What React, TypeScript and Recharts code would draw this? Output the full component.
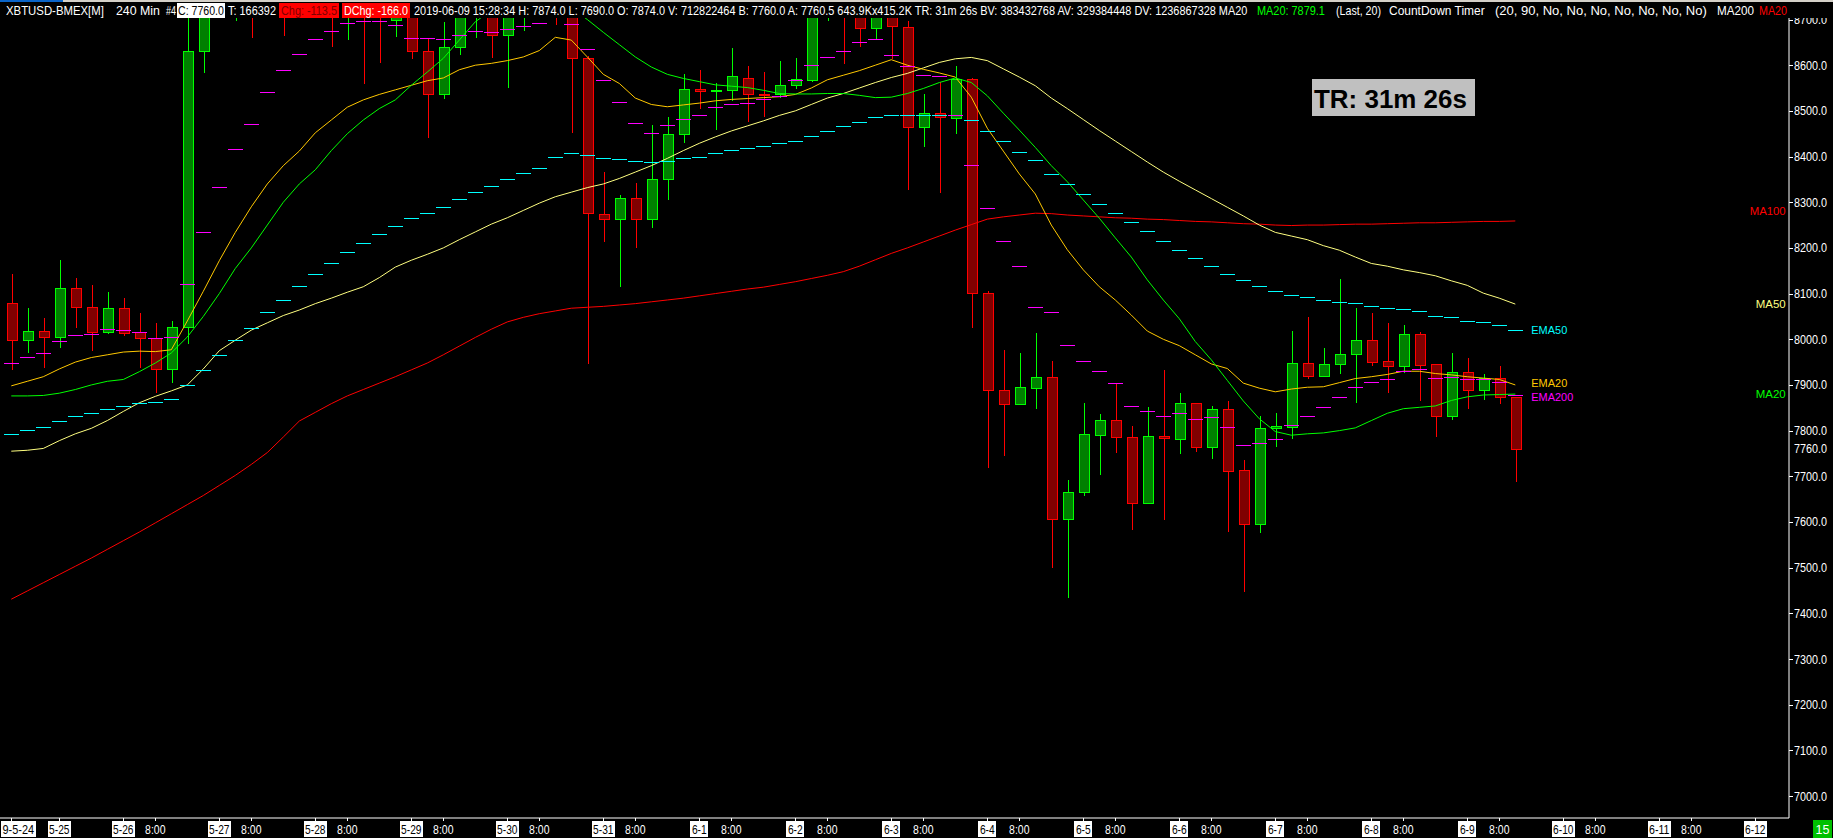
import React from 'react';
import { ComposedChart, Bar, Line, XAxis, YAxis, ReferenceDot } from 'recharts';

const FONT = '"Liberation Sans", Arial, sans-serif';
const PLOT_BOTTOM = 818;
const AXIS_X = 1789;

// ---- candle data (4h bars, first bar 2019-05-24 20:00) ----
const opens = [
  8079, 7998, 8018, 8006, 8112, 8070, 8016, 8068, 8016, 8002,
  7936, 8027, 8632, 8745, 8770, 8820, 8740, 8850, 8790, 8880,
  8920, 8800, 8850, 8760, 8700, 8780, 8632, 8538, 8640, 8720,
  8780, 8665, 8750, 8790, 8760, 8740, 8615, 8274, 8263, 8309,
  8263, 8350, 8449, 8547, 8543, 8545, 8573, 8538, 8536, 8556,
  8568, 8740, 8770, 8720, 8681, 8725, 8683, 8465, 8495, 8485,
  8569, 8101, 7889, 7859, 7894, 7917, 7607, 7665, 7791, 7823,
  7785, 7641, 7788, 7782, 7860, 7765, 7847, 7713, 7595, 7805,
  7809, 7947, 7920, 7945, 7967, 7998, 7952, 7942, 8011, 7945,
  7833, 7928, 7890, 7915, 7874,
];
const highs = [
  8143, 8068, 8046, 8174, 8134, 8119, 8103, 8090, 8057, 8035,
  8040, 8710, 8790, 8810, 8850, 8860, 8880, 8900, 8920, 8950,
  8960, 8880, 8900, 8820, 8830, 8820, 8660, 8695, 8760, 8820,
  8800, 8800, 8830, 8850, 8800, 8780, 8620, 8366, 8315, 8341,
  8469, 8486, 8581, 8589, 8560, 8637, 8598, 8586, 8609, 8615,
  8780, 8800, 8800, 8740, 8760, 8750, 8697, 8536, 8564, 8598,
  8573, 8105, 7977, 7969, 8014, 7952, 7693, 7860, 7836, 7904,
  7810, 7851, 7933, 7882, 7860, 7855, 7864, 7735, 7831, 7838,
  8018, 8048, 7980, 8132, 8068, 8057, 8035, 8031, 8015, 7945,
  7969, 7958, 7925, 7941, 7874,
];
const lows = [
  7936, 7973, 7940, 7984, 8027, 7976, 8013, 8009, 7940, 7885,
  7907, 7991, 8584, 8712, 8698, 8662, 8705, 8667, 8720, 8800,
  8643, 8657, 8562, 8608, 8664, 8615, 8443, 8529, 8624, 8662,
  8617, 8553, 8676, 8720, 8690, 8454, 7947, 8216, 8117, 8203,
  8246, 8307, 8432, 8506, 8460, 8524, 8478, 8489, 8531, 8549,
  8566, 8698, 8604, 8643, 8657, 8615, 8330, 8422, 8323, 8452,
  8027, 7721, 7747, 7859, 7850, 7502, 7436, 7660, 7704, 7754,
  7585, 7641, 7607, 7752, 7756, 7739, 7581, 7450, 7577, 7767,
  7784, 7916, 7920, 7927, 7863, 7944, 7885, 7929, 7866, 7789,
  7826, 7850, 7870, 7861, 7690,
];
const closes = [
  7998, 8018, 8006, 8112, 8070, 8016, 8068, 8014, 8002, 7934,
  8027, 8632, 8745, 8770, 8820, 8740, 8850, 8790, 8880, 8920,
  8800, 8850, 8760, 8720, 8780, 8632, 8538, 8639, 8740, 8780,
  8665, 8760, 8790, 8760, 8740, 8615, 8276, 8263, 8309, 8263,
  8350, 8449, 8547, 8543, 8545, 8576, 8538, 8535, 8556, 8570,
  8740, 8770, 8720, 8681, 8725, 8686, 8465, 8495, 8486, 8570,
  8101, 7889, 7859, 7895, 7917, 7607, 7665, 7792, 7823, 7785,
  7641, 7788, 7783, 7860, 7765, 7847, 7712, 7595, 7805, 7810,
  7947, 7920, 7945, 7967, 7998, 7951, 7942, 8011, 7944, 7833,
  7928, 7890, 7915, 7874, 7760,
];

// ---- study lines ----
const ma100 = [
  7431, 7449, 7467, 7485, 7503, 7521, 7540, 7559, 7578, 7598,
  7618, 7638, 7658, 7680, 7702, 7726, 7752, 7786, 7821, 7840,
  7859, 7876, 7890, 7904, 7918, 7933, 7948, 7966, 7985, 8004,
  8022, 8038, 8048, 8056, 8062, 8068, 8070, 8072, 8075, 8078,
  8082, 8086, 8090, 8095, 8100, 8105, 8110, 8114, 8120, 8126,
  8133, 8140, 8148, 8160, 8174, 8188, 8200, 8213, 8226, 8239,
  8251, 8263, 8268, 8272, 8276, 8275, 8272, 8270, 8268, 8266,
  8265, 8263, 8262, 8260, 8258, 8257, 8255, 8253, 8252, 8250,
  8249, 8250, 8250, 8251, 8252, 8252, 8253, 8254, 8255, 8255,
  8256, 8257, 8258, 8258, 8259,
];
const ma50 = [
  7755, 7757, 7761, 7778, 7793, 7805, 7822, 7842, 7861, 7875,
  7887, 7900, 7935, 7975, 7998, 8020, 8036, 8052, 8064, 8078,
  8090, 8103, 8115, 8135, 8158, 8173, 8186, 8200, 8218, 8235,
  8252, 8266, 8282, 8298, 8312, 8322, 8332, 8340, 8352, 8366,
  8380, 8396, 8413, 8429, 8443, 8456, 8467, 8478, 8490, 8500,
  8514, 8528, 8538, 8550, 8562, 8573, 8582, 8594, 8606, 8614,
  8617, 8610, 8592, 8574, 8555, 8528, 8505, 8481, 8457, 8434,
  8411, 8388, 8366, 8346, 8327, 8308, 8289, 8270, 8250, 8234,
  8226, 8218, 8205, 8195, 8180, 8166, 8160, 8152, 8146, 8139,
  8128, 8118, 8101, 8090, 8077,
];
const ema20 = [
  7898, 7908, 7918, 7935, 7950, 7960, 7966, 7972, 7974, 7973,
  7977, 8040, 8105, 8172, 8234, 8290, 8340, 8380, 8412, 8452,
  8480, 8508, 8524, 8536, 8546, 8556, 8566, 8572, 8590, 8600,
  8604, 8610, 8618, 8632, 8661, 8655, 8618, 8580, 8560, 8528,
  8514, 8509, 8513, 8517, 8522, 8525, 8527, 8529, 8531, 8536,
  8550, 8568, 8578, 8588, 8600, 8612, 8600, 8591, 8583, 8574,
  8530, 8462, 8412, 8362, 8318, 8250, 8196, 8152, 8115, 8086,
  8053, 8018, 8000, 7986, 7966, 7946, 7936, 7904, 7893, 7885,
  7891, 7895, 7896, 7905, 7914, 7918, 7923, 7930, 7930, 7925,
  7922, 7918, 7915, 7912, 7900,
];
const ma20 = [
  7876, 7876, 7877, 7882, 7890, 7900, 7908, 7912, 7929, 7948,
  7970, 8005, 8050, 8100, 8155, 8200, 8250, 8300, 8340, 8371,
  8413, 8450, 8480, 8505, 8524, 8556, 8585, 8615, 8655, 8695,
  8720, 8738, 8750, 8752, 8745, 8725, 8700, 8672, 8645, 8618,
  8596, 8580, 8571, 8564, 8557, 8554, 8551, 8545, 8538, 8537,
  8537, 8538, 8538, 8534, 8529, 8530, 8538, 8549, 8562, 8572,
  8562, 8533, 8495, 8458, 8420, 8380, 8345, 8305, 8265, 8222,
  8180, 8130, 8086, 8045, 7995, 7955, 7910, 7865, 7826, 7798,
  7790, 7793, 7795, 7800, 7806, 7822, 7838, 7848, 7851, 7854,
  7866, 7874, 7878, 7879, 7880,
];
const ema50Steps = [
  7792, 7801, 7809, 7820, 7831, 7838, 7847, 7854, 7860, 7862,
  7869, 7899, 7932, 7965, 7998, 8025, 8059, 8087, 8117, 8142,
  8166, 8190, 8210, 8230, 8249, 8265, 8276, 8289, 8306, 8322,
  8335, 8350, 8363, 8376, 8398, 8407, 8403, 8396, 8394, 8390,
  8387, 8390, 8396, 8400, 8407, 8414, 8418, 8422, 8429, 8433,
  8444, 8457, 8466, 8475, 8486, 8492, 8492, 8492, 8492, 8492,
  8480, 8457, 8433, 8411, 8392, 8361, 8340, 8318, 8297, 8276,
  8257, 8236, 8215, 8196, 8178, 8160, 8143, 8129, 8116, 8105,
  8098, 8092, 8085, 8081, 8079, 8072, 8068, 8066, 8061, 8052,
  8048, 8041, 8037, 8031, 8020,
];
const ema200Steps = [
  7947, 7961, 7969, 7996, 8009, 8011, 8022, 8020, 8017, 8002,
  8006, 8120, 8234, 8333, 8416, 8471, 8541, 8589, 8624, 8657,
  8674, 8692, 8696, 8696, 8688, 8660, 8660, 8657, 8666, 8674,
  8672, 8679, 8686, 8692, 8710, 8690, 8635, 8567, 8519, 8473,
  8451, 8468, 8482, 8492, 8508, 8514, 8517, 8525, 8532, 8567,
  8600, 8619, 8630, 8650, 8657, 8622, 8598, 8578, 8576, 8490,
  8381, 8287, 8215, 8160, 8070, 8059, 7987, 7952, 7930, 7904,
  7855, 7842, 7831, 7838, 7825, 7829, 7807, 7768, 7774, 7781,
  7812, 7831, 7851, 7873, 7895, 7906, 7912, 7930, 7934, 7915,
  7917, 7912, 7912, 7906, 7879,
];

// ---- axis ticks ----
const xTickBars = [
  0, 3, 7, 9, 13, 15, 19, 21, 25, 27, 31, 33, 37, 39, 43, 45, 49, 51, 55, 57,
  61, 63, 67, 69, 73, 75, 79, 81, 85, 87, 91, 93, 97, 99, 103, 105, 109,
];
const xTickLabels = [
  '9-5-24', '5-25', '5-26', '8:00', '5-27', '8:00', '5-28', '8:00', '5-29', '8:00',
  '5-30', '8:00', '5-31', '8:00', '6-1', '8:00', '6-2', '8:00', '6-3', '8:00',
  '6-4', '8:00', '6-5', '8:00', '6-6', '8:00', '6-7', '8:00', '6-8', '8:00',
  '6-9', '8:00', '6-10', '8:00', '6-11', '8:00', '6-12',
];
const yTicks = [
  7000, 7100, 7200, 7300, 7400, 7500, 7600, 7700, 7800, 7900,
  8000, 8100, 8200, 8300, 8400, 8500, 8600, 8700,
];
const lastPrice = 7760;
const ma100LabelLevel = 8281;

const data = opens.map((o, i) => ({
  i,
  o,
  h: highs[i],
  l: lows[i],
  c: closes[i],
  ma100: ma100[i],
  ma50: ma50[i],
  ema20: ema20[i],
  ma20: ma20[i],
  ema50: ema50Steps[i],
  ema200: ema200Steps[i],
}));

const lastIdx = opens.length - 1;

// text measuring so that texts can be fitted to the measured widths of the reference
let measureCtx: CanvasRenderingContext2D | null = null;
function measure(t: string, size: number, bold = false): number {
  if (!measureCtx && typeof document !== 'undefined') {
    measureCtx = document.createElement('canvas').getContext('2d');
  }
  if (!measureCtx) return t.length * size * 0.55;
  measureCtx.font = `${bold ? 'bold ' : ''}${size}px "Liberation Sans"`;
  return measureCtx.measureText(t).width || t.length * size * 0.55;
}

function FitText(p: {
  x: number; y: number; w: number; t: string; size: number; fill: string;
  anchor?: 'start' | 'middle' | 'end'; bold?: boolean;
}) {
  const m = measure(p.t, p.size, !!p.bold);
  const sx = p.w / m;
  let x0 = p.x;
  if (p.anchor === 'middle') x0 = p.x - p.w / 2;
  if (p.anchor === 'end') x0 = p.x - p.w;
  return (
    <text
      transform={`translate(${x0},${p.y}) scale(${sx},1)`}
      x={0}
      y={0}
      fill={p.fill}
      fontSize={p.size}
      fontWeight={p.bold ? 'bold' : 'normal'}
      fontFamily={FONT}
    >
      {p.t}
    </text>
  );
}

function renderCandle(props: any) {
  const { x, y, width, height, payload } = props;
  if (!payload || x == null || y == null) return <g />;
  const { o, h, l, c } = payload;
  const top = Math.min(y, y + height);
  const bot = Math.max(y, y + height);
  const py = (p: number) => (h === l ? top : top + ((h - p) / (h - l)) * (bot - top));
  const cx = Math.round(x + width / 2);
  const up = c >= o;
  const stroke = up ? '#00ff00' : '#ff0000';
  const fill = up ? '#008000' : '#800000';
  const yo = py(o);
  const yc = py(c);
  const bt = Math.round(Math.min(yo, yc));
  const bb = Math.round(Math.max(yo, yc));
  return (
    <g>
      <line x1={cx + 0.5} x2={cx + 0.5} y1={Math.round(py(h))} y2={Math.round(py(l)) + 1} stroke={stroke} strokeWidth={1} shapeRendering="crispEdges" />
      <rect x={cx - 5 + 0.5} y={bt + 0.5} width={10} height={Math.max(bb - bt, 1)} fill={fill} stroke={stroke} strokeWidth={1} shapeRendering="crispEdges" />
    </g>
  );
}

function makeDash(color: string) {
  return (props: any) => {
    const { cx, cy, index } = props;
    if (cx == null || cy == null) return <g key={`d${index}`} />;
    const yr = Math.round(cy) + 0.5;
    const xc = Math.round(cx);
    return <line key={`d${index}`} x1={xc - 7} x2={xc + 8} y1={yr} y2={yr} stroke={color} strokeWidth={1} shapeRendering="crispEdges" />;
  };
}

function renderXTick(props: any) {
  const { x, payload } = props;
  const idx = xTickBars.indexOf(payload.value);
  if (idx < 0) return <g />;
  const label = xTickLabels[idx];
  const isTime = label.indexOf(':') >= 0;
  const xr = Math.round(x) + 0.5;
  const w = label.length * 5.6 + 1;
  let bx = x - w / 2;
  if (bx < 1) bx = 1;
  return (
    <g>
      <line x1={xr} x2={xr} y1={PLOT_BOTTOM} y2={PLOT_BOTTOM + 3} stroke="#ffffff" shapeRendering="crispEdges" />
      {!isTime && <rect x={Math.round(bx)} y={PLOT_BOTTOM + 3} width={Math.round(w)} height={16} fill="#ffffff" />}
      <FitText x={bx + w / 2} y={PLOT_BOTTOM + 15.5} w={w - 3} t={label} size={12.5} fill={isTime ? '#ffffff' : '#000000'} anchor="middle" />
    </g>
  );
}

function renderYTick(props: any) {
  const { y, payload } = props;
  const v = payload.value as number;
  const yr = Math.round(y) + 0.5;
  return (
    <g>
      <line x1={AXIS_X} x2={AXIS_X + 4} y1={yr} y2={yr} stroke="#ffffff" shapeRendering="crispEdges" />
      <FitText x={AXIS_X + 5} y={y + 4.5} w={33} t={v.toFixed(1)} size={12.5} fill="#ffffff" />
    </g>
  );
}

function textMarker(text: string, color: string, anchor: 'start' | 'end', len: number, size: number, dy: number) {
  return (props: any) => (
    <FitText x={props.cx} y={props.cy + dy} w={len} t={text} size={size} fill={color} anchor={anchor} />
  );
}

const headerSegs = [
  { x: 6, w: 98, t: 'XBTUSD-BMEX[M]', fill: '#ffffff' },
  { x: 116, w: 44, t: '240 Min', fill: '#ffffff' },
  { x: 166, w: 10, t: '#4', fill: '#ffffff' },
  { x: 178, w: 46, t: 'C: 7760.0', fill: '#000000', bg: '#ffffff', bx: 177, bw: 48 },
  { x: 228, w: 48, t: 'T: 166392', fill: '#ffffff' },
  { x: 281, w: 56, t: 'Chg: -113.5', fill: '#800000', bg: '#ff0000', bx: 279, bw: 60 },
  { x: 344, w: 64, t: 'DChg: -166.0', fill: '#ffffff', bg: '#ff0000', bx: 342, bw: 68 },
  { x: 414, w: 836, t: '2019-06-09 15:28:34 H: 7874.0 L: 7690.0 O: 7874.0 V: 712822464 B: 7760.0 A: 7760.5 643.9Kx415.2K TR: 31m 26s BV: 383432768 AV: 329384448 DV: 1236867328 MA20', fill: '#ffffff' },
  { x: 1257, w: 68, t: 'MA20: 7879.1', fill: '#00ff00' },
  { x: 1336, w: 45, t: '(Last, 20)', fill: '#ffffff' },
  { x: 1389, w: 96, t: 'CountDown Timer', fill: '#ffffff' },
  { x: 1495, w: 212, t: '(20, 90, No, No, No, No, No, No, No)', fill: '#ffffff' },
  { x: 1717, w: 37, t: 'MA200', fill: '#ffffff' },
  { x: 1759, w: 28, t: 'MA20', fill: '#ff0000' },
];

export default function App() {
  return (
    <div style={{ position: 'relative', width: 1833, height: 838, background: '#000000', overflow: 'hidden' }}>
      <style>{'body{margin:0;background:#000;}'}</style>
      <ComposedChart width={1833} height={838} data={data} margin={{ top: 18, right: 0, bottom: 0, left: 0 }}>
        <XAxis
          dataKey="i"
          type="number"
          domain={[-0.706, 111.106]}
          allowDataOverflow
          ticks={xTickBars}
          interval={0}
          tick={renderXTick}
          tickLine={false}
          axisLine={{ stroke: '#ffffff' }}
          height={20}
        />
        <YAxis
          orientation="right"
          type="number"
          domain={[6952, 8703.3]}
          allowDataOverflow
          ticks={yTicks}
          interval={0}
          tick={renderYTick}
          tickLine={false}
          axisLine={{ stroke: '#ffffff' }}
          width={44}
        />
        <Bar dataKey={(d: any) => [d.l, d.h]} barSize={11} shape={renderCandle} isAnimationActive={false} />
        <Line type="linear" dataKey="ma100" stroke="#ff0000" strokeWidth={1} dot={false} activeDot={false} isAnimationActive={false} />
        <Line type="linear" dataKey="ma50" stroke="#ffff80" strokeWidth={1} dot={false} activeDot={false} isAnimationActive={false} />
        <Line type="linear" dataKey="ema20" stroke="#ffc800" strokeWidth={1} dot={false} activeDot={false} isAnimationActive={false} />
        <Line type="linear" dataKey="ma20" stroke="#00ff00" strokeWidth={1} dot={false} activeDot={false} isAnimationActive={false} />
        <Line type="linear" dataKey="ema50" stroke="none" dot={makeDash('#00ffff')} activeDot={false} isAnimationActive={false} />
        <Line type="linear" dataKey="ema200" stroke="none" dot={makeDash('#ff00ff')} activeDot={false} isAnimationActive={false} />
        <ReferenceDot x={lastIdx + 1} y={ema50Steps[lastIdx]} r={0} ifOverflow="visible" shape={textMarker('EMA50', '#00ffff', 'start', 36, 11.5, 4)} />
        <ReferenceDot x={lastIdx + 1} y={ema200Steps[lastIdx]} r={0} ifOverflow="visible" shape={textMarker('EMA200', '#ff00ff', 'start', 42, 10, 6.5)} />
        <ReferenceDot x={lastIdx + 1} y={ema20[lastIdx]} r={0} ifOverflow="visible" shape={textMarker('EMA20', '#ffc800', 'start', 36, 10, 2)} />
        <ReferenceDot x={110.9} y={ma100LabelLevel} r={0} ifOverflow="visible" shape={textMarker('MA100', '#ff0000', 'end', 36, 11.5, 4)} />
        <ReferenceDot x={110.9} y={ma50[lastIdx]} r={0} ifOverflow="visible" shape={textMarker('MA50', '#ffff80', 'end', 30, 11.5, 4)} />
        <ReferenceDot x={110.9} y={ma20[lastIdx]} r={0} ifOverflow="visible" shape={textMarker('MA20', '#00ff00', 'end', 30, 11.5, 4)} />
        <ReferenceDot x={111.05} y={lastPrice} r={0} ifOverflow="visible" shape={(p: any) => (
          <FitText x={AXIS_X + 5} y={p.cy + 4.5} w={33} t={lastPrice.toFixed(1)} size={12.5} fill="#ffffff" />
        )} />
      </ComposedChart>
      <svg width={1833} height={838} style={{ position: 'absolute', left: 0, top: 0, pointerEvents: 'none' }}>
        <rect x={0} y={0} width={1833} height={18} fill="#000000" />
        <rect x={0} y={0} width={1833} height={2} fill="#d4d0c8" />
        <rect x={0} y={0} width={63} height={2} fill="#0a64c8" />
        {headerSegs.map((s, i) => (
          <g key={i}>
            {s.bg && <rect x={s.bx} y={3} width={s.bw} height={15} fill={s.bg} />}
            <FitText x={s.x} y={15} w={s.w} t={s.t} size={12.5} fill={s.fill} />
          </g>
        ))}
        <rect x={1312} y={79} width={163} height={37} fill="#c0c0c0" />
        <FitText x={1314} y={108} w={153} t="TR: 31m 26s" size={26} bold fill="#000000" />
        <rect x={1813} y={820} width={19} height={18} fill="#00c000" />
        <text x={1822.5} y={834} fill="#ffffff" fontSize={12.5} fontFamily={FONT} textAnchor="middle">15</text>
      </svg>
    </div>
  );
}
